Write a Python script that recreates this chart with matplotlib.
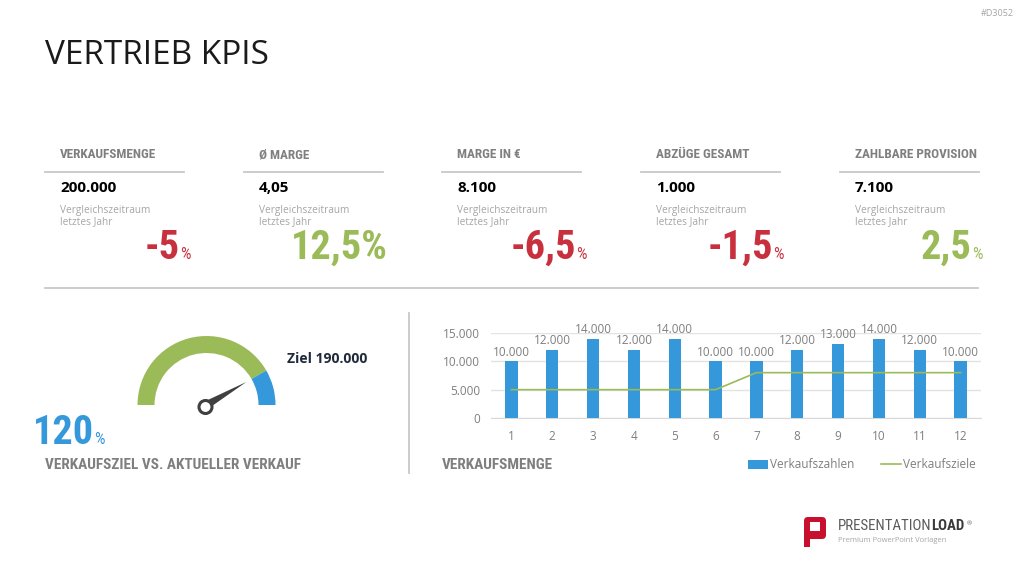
import matplotlib
matplotlib.use("Agg")
import matplotlib.pyplot as plt
from matplotlib import font_manager
from matplotlib.patches import Wedge, Polygon, Circle, FancyBboxPatch, Rectangle
import numpy as np

# ---- data ----
kpi_titles = ["VERKAUFSMENGE", "Ø MARGE", "MARGE IN €", "ABZÜGE GESAMT", "ZAHLBARE PROVISION"]
kpi_values = ["200.000", "4,05", "8.100", "1.000", "7.100"]
kpi_changes = ["-5", "12,5%", "-6,5", "-1,5", "2,5"]
kpi_pct_small = [True, False, True, True, True]
kpi_positive = [False, True, False, False, True]

gauge_parts = [100, 20]          # % of target reached, over-achievement
gauge_total = 120
gauge_label = "Ziel 190.000"

months = list(range(1, 13))
sales = [10000, 12000, 14000, 12000, 14000, 10000, 10000, 12000, 13000, 14000, 12000, 10000]
targets = [5000] * 6 + [8000] * 6
yticks = [0, 5000, 10000, 15000]

# ---- style ----
RED = "#C9303E"
GREEN = "#9BBB59"
BLUE = "#3498DB"
GRAY = "#7F7F7F"
LIGHT = "#A6A6A6"
LINE = "#C8C8C8"

names = {f.name for f in font_manager.fontManager.ttflist}
COND = "DejaVu Sans"
for cand in ["Roboto Condensed", "Liberation Sans Narrow", "Open Sans Condensed", "DejaVu Sans Condensed"]:
    if cand in names:
        COND = cand
        break
CF = [COND, "DejaVu Sans"]
BODY = "Open Sans" if "Open Sans" in names else "DejaVu Sans"
plt.rcParams["font.family"] = [BODY, "DejaVu Sans"]

fig = plt.figure(figsize=(10.24, 5.76), dpi=100)
fig.patch.set_facecolor("white")

# full-figure axes in pixel coordinates for layout
ax = fig.add_axes([0, 0, 1, 1])
ax.set_xlim(0, 1024)
ax.set_ylim(576, 0)
ax.axis("off")

ax.text(45, 56, "VERTRIEB KPIS", fontsize=24, color="#1A1A1A", va="center", ha="left")
ax.text(1014, 13, "#D3052", fontsize=6.5, color=LIGHT, va="center", ha="right")

# ---- KPI row ----
col_x = [45, 244, 442, 641, 840]
num_end = [180, 388, 576, 773, 972]
for i in range(5):
    x0 = col_x[i]
    ax.text(x0 + 15, 155, kpi_titles[i], fontsize=9.5, fontweight="bold", color=GRAY,
            family=CF, va="center")
    ax.plot([x0, x0 + 139], [172, 172], color=LINE, lw=1.3)
    ax.text(x0 + 15, 188, kpi_values[i], fontsize=11, fontweight="bold", color="black", va="center")
    ax.text(x0 + 15, 211, "Vergleichszeitraum", fontsize=7.3, color=LIGHT, va="center")
    ax.text(x0 + 15, 222, "letztes Jahr", fontsize=7.3, color=LIGHT, va="center")
    c = GREEN if kpi_positive[i] else RED
    ax.text(num_end[i], 259, kpi_changes[i], fontsize=29, fontweight="bold", color=c,
            family=CF, ha="right", va="baseline")
    if kpi_pct_small[i]:
        ax.text(num_end[i] + 0.5, 259, "%", fontsize=12, color=c,
                family=CF, ha="left", va="baseline")

ax.plot([45, 978], [288, 288], color=LINE, lw=1.3)
ax.plot([409, 409], [313, 473], color=LINE, lw=1.3)

# ---- gauge ----
cx, cy, r, w = 206.5, 405, 69, 17
start = 180.0
gcolors = [GREEN, BLUE]
for part, col in zip(gauge_parts, gcolors):
    span = part / gauge_total * 180
    ax.add_patch(Wedge((cx, cy), r, start, start + span, width=w, facecolor=col, edgecolor="none"))
    start += span

ang = np.deg2rad(180 + gauge_parts[0] / gauge_total * 180)
tip = (cx + 46 * np.cos(ang), cy + 46 * np.sin(ang))
perp = ang + np.pi / 2
base1 = (cx + 4 * np.cos(perp), cy + 4 * np.sin(perp))
base2 = (cx - 4 * np.cos(perp), cy - 4 * np.sin(perp))
ax.add_patch(Polygon([base1, tip, base2], closed=True, facecolor="#404040", edgecolor="none"))
ax.add_patch(Circle((cx - 1, cy + 2), 6.5, facecolor="white", edgecolor="#404040", lw=2.2, zorder=5))

ax.text(287, 359, gauge_label, fontsize=10, fontweight="bold", color="#1F2A3A", va="center")
ax.text(94, 444, "120", fontsize=29, fontweight="bold", color=BLUE, family=CF, ha="right", va="baseline")
ax.text(94.5, 444, "%", fontsize=12, color=BLUE, family=CF, ha="left", va="baseline")
ax.text(45, 465, "VERKAUFSZIEL VS. AKTUELLER VERKAUF", fontsize=11, fontweight="bold", color=GRAY,
        family=CF, va="center")
ax.text(442, 465, "VERKAUFSMENGE", fontsize=11, fontweight="bold", color=GRAY, family=CF, va="center")

# ---- logo ----
ax.add_patch(FancyBboxPatch((804, 517), 22, 22, boxstyle="round,pad=0,rounding_size=4",
                            facecolor="#C8102E", edgecolor="none"))
ax.add_patch(Rectangle((804, 535), 6, 12, facecolor="#C8102E", edgecolor="none"))
ax.add_patch(Rectangle((810, 522), 10, 9, facecolor="white", edgecolor="none"))
t_pres = ax.text(838, 526, "PRESENTATION", fontsize=10.7, color="#5A5A5A", family=CF, va="center")
t_load = ax.annotate("LOAD", xy=(1, 0.5), xycoords=t_pres, fontsize=10.7, fontweight="bold",
                     color="#3A3A3A", family=CF, va="center", ha="left")
ax.annotate("®", xy=(1, 1), xycoords=t_load, xytext=(1, -2), textcoords="offset points",
            fontsize=4.5, color="#5A5A5A", va="top", ha="left")
ax.text(838, 541, "Premium PowerPoint Vorlagen", fontsize=5.5, color=LIGHT, va="center")

# ---- bar chart ----
bx = fig.add_axes([491 / 1024, 1 - 418 / 576, 490 / 1024, 85 / 576])
bars = bx.bar(months, sales, width=0.3, color=BLUE, zorder=3, label="Verkaufszahlen")
line, = bx.plot(months, targets, color=GREEN, lw=1.2, zorder=4, label="Verkaufsziele")
for m, v in zip(months, sales):
    bx.text(m, v + 500, f"{v:,}".replace(",", "."), ha="center", va="bottom", fontsize=8.5, color=GRAY)
bx.set_xlim(0.5, 12.5)
bx.set_ylim(0, 15000)
bx.set_yticks(yticks)
bx.set_yticklabels([f"{t:,}".replace(",", ".") for t in yticks])
bx.set_xticks(months)
bx.tick_params(length=0, labelsize=8.5, labelcolor=GRAY)
bx.tick_params(axis="x", pad=9)
bx.tick_params(axis="y", pad=8)
bx.grid(axis="y", color="#E3E3E3", lw=1, zorder=0)
for s in ["top", "right", "left"]:
    bx.spines[s].set_visible(False)
bx.spines["bottom"].set_color("#D9D9D9")
bx.set_facecolor("none")

fig.legend(handles=[bars, line], loc="center", ncol=2, frameon=False,
           bbox_to_anchor=(862 / 1024, 1 - 465 / 576), bbox_transform=fig.transFigure,
           fontsize=8.5, labelcolor=GRAY, handlelength=1.7, handletextpad=0.2, columnspacing=2.2)

fig.savefig("out.png", dpi=100, facecolor="white")
